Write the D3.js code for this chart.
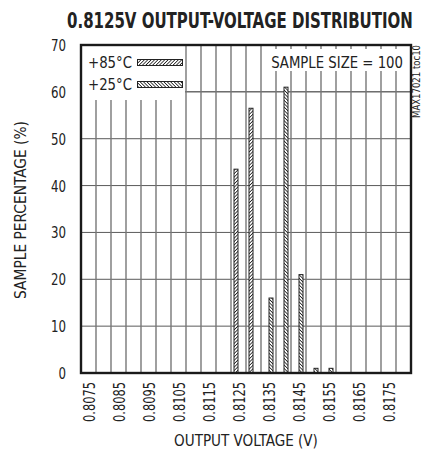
<!DOCTYPE html>
<html>
<head>
<meta charset="utf-8">
<script src="https://cdn.jsdelivr.net/npm/d3@7"></script>
<style>
  html, body { margin: 0; padding: 0; background: #fff; }
  svg { display: block; }
  text { font-family: "DejaVu Sans Condensed", "Liberation Sans", sans-serif; fill: #222; }
</style>
</head>
<body>
<svg id="chart" width="425" height="453"></svg>
<script>
// ---- data ----
const bins = ["0.8075","0.8080","0.8085","0.8090","0.8095","0.8100","0.8105","0.8110",
              "0.8115","0.8120","0.8125","0.8130","0.8135","0.8140","0.8145","0.8150",
              "0.8155","0.8160","0.8165","0.8170","0.8175","0.8180"];
const tickLabels = ["0.8075","0.8085","0.8095","0.8105","0.8115","0.8125",
                    "0.8135","0.8145","0.8155","0.8165","0.8175"];
const yTicks = [0,10,20,30,40,50,60,70];
const seriesNames = ["+85°C","+25°C"];
const volts85 = ["0.8125","0.8130"];
const values85 = [43.5, 56.5];
const volts25 = ["0.8135","0.8140","0.8145","0.8150","0.8155"];
const values25 = [16, 61, 21, 1, 1];

// ---- layout ----
const svg = d3.select("#chart");
const L = 81, R = 411, T = 45, B = 373;

const x = d3.scaleBand().domain(bins).range([L, R]).padding(0);
const xSub = d3.scaleBand().domain(seriesNames).range([x.bandwidth()/2 - 5, x.bandwidth()/2 + 5]).padding(0);
const y = d3.scaleLinear().domain([0, 70]).range([B, T]);

// text helper: places text with a base transform and compresses it horizontally to a width
function addText(parent, str, base, size, width, anchor, weight, fill) {
  const t = parent.append("text").attr("transform", base).attr("font-size", size)
    .attr("text-anchor", anchor || "start").text(str);
  if (weight) t.attr("font-weight", weight);
  if (fill) t.attr("fill", fill);
  if (width) {
    const len = t.node().getComputedTextLength();
    t.attr("transform", `${base} scale(${width / len},1)`);
  }
  return t;
}

// patterns
const defs = svg.append("defs");
function hatch(id, dir) {
  const p = defs.append("pattern").attr("id", id).attr("patternUnits", "userSpaceOnUse")
    .attr("width", 2.4).attr("height", 2.4)
    .attr("patternTransform", `rotate(${dir > 0 ? 45 : -45})`);
  p.append("rect").attr("width", 2.4).attr("height", 2.4).attr("fill", "#fff");
  p.append("line").attr("x1", 0).attr("x2", 0).attr("y1", 0).attr("y2", 2.4)
    .attr("stroke", "#111").attr("stroke-width", 1.5);
}
hatch("h85", 1);
hatch("h25", -1);

// background
svg.append("rect").attr("x", L).attr("y", T).attr("width", R - L).attr("height", B - T).attr("fill", "#fff");

// horizontal grid
svg.append("g").selectAll("line").data(yTicks.filter(d => d > 0 && d < 70)).join("line")
  .attr("x1", L).attr("x2", R).attr("y1", d => y(d)).attr("y2", d => y(d))
  .attr("stroke", d => d === 60 ? "#222" : "#5a5a5a").attr("stroke-width", 1);

// vertical grid (bin edges)
svg.append("g").selectAll("line").data(bins.slice(1)).join("line")
  .attr("x1", d => x(d)).attr("x2", d => x(d)).attr("y1", T).attr("y2", B)
  .attr("stroke", "#777").attr("stroke-width", 1.4);

// bars
function drawBars(volts, vals, name, pat) {
  svg.append("g").selectAll("rect").data(volts.map((v, i) => ({v, val: vals[i]}))).join("rect")
    .attr("x", d => x(d.v) + xSub(name) + 0.5)
    .attr("width", xSub.bandwidth() - 1)
    .attr("y", d => y(d.val))
    .attr("height", d => y(0) - y(d.val))
    .attr("fill", `url(#${pat})`)
    .attr("stroke", "#222").attr("stroke-width", 1);
}
drawBars(volts85, values85, "+85°C", "h85");
drawBars(volts25, values25, "+25°C", "h25");

// legend box
svg.append("rect").attr("x", L).attr("y", T).attr("width", 104).attr("height", 55).attr("fill", "#fff");
const leg = svg.append("g");
seriesNames.forEach((n, i) => {
  const yy = 67.5 + i * 22;
  addText(leg, n, `translate(88,${yy})`, 16, 44);
  leg.append("rect").attr("x", 137.5).attr("y", yy - 8).attr("width", 45).attr("height", 6)
    .attr("fill", i === 0 ? "url(#h85)" : "url(#h25)").attr("stroke", "#222").attr("stroke-width", 1);
});

// sample size box
svg.append("rect").attr("x", 267).attr("y", 49).attr("width", 140).attr("height", 22).attr("fill", "#fff");
addText(svg, "SAMPLE SIZE = 100", "translate(403,67.5)", 16, 132, "end");

// frame
svg.append("rect").attr("x", L).attr("y", T).attr("width", R - L).attr("height", B - T)
  .attr("fill", "none").attr("stroke", "#1a1a1a").attr("stroke-width", 2.4);

// y axis labels
const yg = svg.append("g");
yTicks.forEach(d => {
  addText(yg, String(d), `translate(66,${y(d) + 6})`, 16.5, d === 0 ? 7.5 : 15, "end");
});

// x tick labels
const xg = svg.append("g");
tickLabels.forEach(d => {
  addText(xg, d, `translate(${x(d) + x.bandwidth()/2 + 6},382) rotate(-90)`, 16.5, 40, "end");
});

// axis titles
addText(svg, "OUTPUT VOLTAGE (V)", "translate(246,446)", 16, 144, "middle");
addText(svg, "SAMPLE PERCENTAGE (%)", `translate(26,${(T + B) / 2 + 1}) rotate(-90)`, 16, 178, "middle");

// title
addText(svg, "0.8125V OUTPUT-VOLTAGE DISTRIBUTION", "translate(67,28)", 21, 346, "start", "bold", "#111");

// side note
addText(svg, "MAX17021 toc10", "translate(420,45) rotate(-90)", 10.5, 73, "end", null, "#444");
</script>
</body>
</html>
